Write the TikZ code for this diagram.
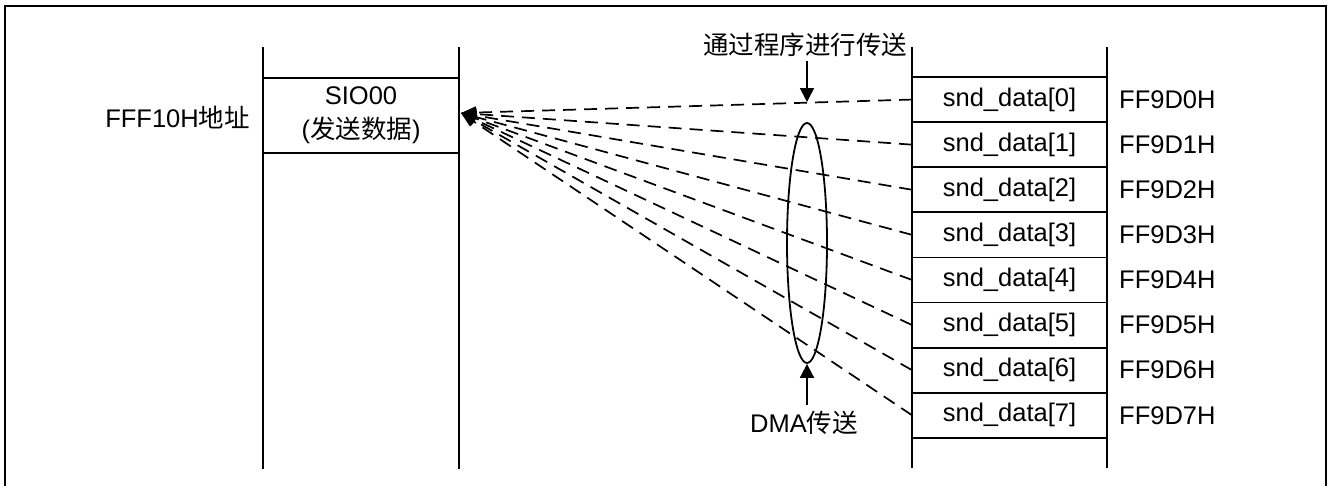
\documentclass[tikz,border=0pt]{standalone}
\usepackage{fontspec}
\setmainfont{Liberation Sans}
\newfontfamily\cjk{Noto Sans CJK SC}
\usepackage{tikz}
\usetikzlibrary{arrows.meta,shapes.geometric}
\tikzset{
  testo/.style={font=\fontsize{25.5}{34}\selectfont, inner sep=0pt},
  cella/.style={testo, draw, line width=1.8pt, minimum width=195pt, minimum height=45.1pt, outer sep=0pt},
  indirizzo/.style={testo, anchor=west},
  colonna/.style={line width=1.8pt},
  trasf/.style={line width=1.7pt, dash pattern=on 13pt off 8pt, -{Triangle[length=15pt,width=12pt]}},
  freccia/.style={line width=1.8pt, -{Triangle[length=14pt,width=14pt]}}
}
\begin{document}
\begin{tikzpicture}[x=1pt, y=-1pt]
        \useasboundingbox (0,0) rectangle (1330,485);
        \def\xd{1009.5} % centro colonna dati
        \def\xa{1119}   % indirizzi
        \def\h{45.1}    % altezza riga

        % Cornice (il lato inferiore non si vede)
        \draw[line width=2.6pt] (5,490) -- (5,6) -- (1326,6) -- (1326,490);

        % Colonna sinistra: registro SIO00
        \draw[colonna] (263,47) -- (263,469);
        \draw[colonna] (459,47) -- (459,469);
        \node[cella, minimum width=196pt, minimum height=75pt, align=center] (sio) at (361,115.5)
        {SIO00\\({\cjk 发送数据})};
        \node[testo, anchor=east] (indsio) at (250,118) {FFF10H{\cjk 地址}};
        \coordinate (punta) at (461,113);

        % Colonna destra: snd_data[0..7]
        \draw[colonna] (912,47) -- (912,468);
        \draw[colonna] (1107,47) -- (1107,468);
        \node[cella] (d0) at (\xd, 77+0.5*\h) {snd\_data[0]};
        \node[cella] (d1) at (\xd, 77+1.5*\h) {snd\_data[1]};
        \node[cella] (d2) at (\xd, 77+2.5*\h) {snd\_data[2]};
        \node[cella] (d3) at (\xd, 77+3.5*\h) {snd\_data[3]};
        \node[cella] (d4) at (\xd, 77+4.5*\h) {snd\_data[4]};
        \node[cella] (d5) at (\xd, 77+5.5*\h) {snd\_data[5]};
        \node[cella] (d6) at (\xd, 77+6.5*\h) {snd\_data[6]};
        \node[cella] (d7) at (\xd, 77+7.5*\h) {snd\_data[7]};

        % Indirizzi
        \node[indirizzo] (a0) at (\xa, 77+0.5*\h) {FF9D0H};
        \node[indirizzo] (a1) at (\xa, 77+1.5*\h) {FF9D1H};
        \node[indirizzo] (a2) at (\xa, 77+2.5*\h) {FF9D2H};
        \node[indirizzo] (a3) at (\xa, 77+3.5*\h) {FF9D3H};
        \node[indirizzo] (a4) at (\xa, 77+4.5*\h) {FF9D4H};
        \node[indirizzo] (a5) at (\xa, 77+5.5*\h) {FF9D5H};
        \node[indirizzo] (a6) at (\xa, 77+6.5*\h) {FF9D6H};
        \node[indirizzo] (a7) at (\xa, 77+7.5*\h) {FF9D7H};

        % Trasferimenti verso SIO00
        \draw[trasf] (d0.west) -- (punta);
        \draw[trasf] (d1.west) -- (punta);
        \draw[trasf] (d2.west) -- (punta);
        \draw[trasf] (d3.west) -- (punta);
        \draw[trasf] (d4.west) -- (punta);
        \draw[trasf] (d5.west) -- (punta);
        \draw[trasf] (d6.west) -- (punta);
        \draw[trasf] (d7.west) -- (punta);

        % Ellisse DMA e didascalie
        \node[draw, ellipse, line width=1.8pt, inner sep=0pt, minimum width=40pt, minimum height=240pt] (gruppo) at (807,243) {};
        \node[testo] (prog) at (805,45) {\cjk 通过程序进行传送};
        \coordinate (p0) at (807,102);
        \draw[freccia] (prog.south -| gruppo.north) ++(0,4) -- (p0);
        \node[testo] (dma) at (804,423) {DMA{\cjk 传送}};
        \draw[freccia] (dma.north -| gruppo.south) ++(0,-6) -- (gruppo.south);
\end{tikzpicture}
\end{document}
